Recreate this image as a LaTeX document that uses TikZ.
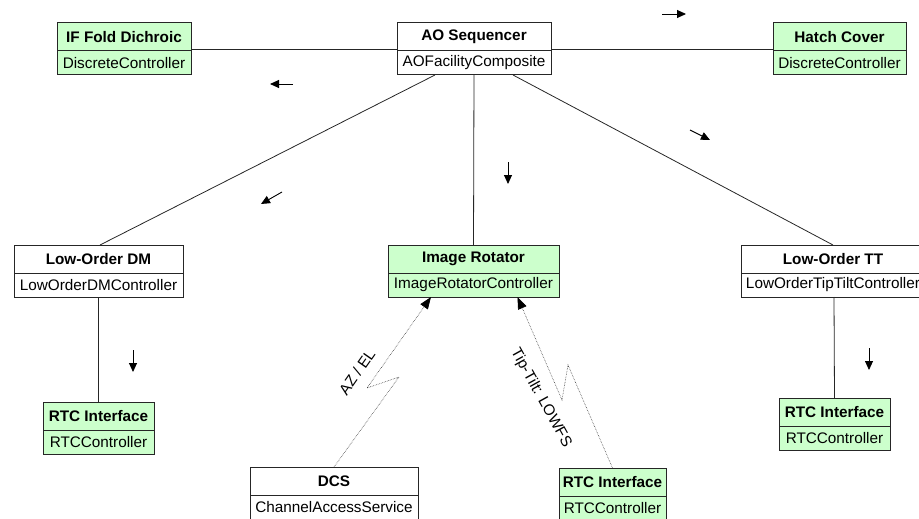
\documentclass[tikz,border=0pt]{standalone}
\usepackage{fontspec}
\setmainfont{Liberation Sans}
\usetikzlibrary{positioning,arrows.meta}

\definecolor{boxgreen}{RGB}{204,255,204}

\tikzset{
  umltitle/.style={draw=black!85, line width=1pt, minimum height=28pt, inner sep=0pt, outer sep=0pt, font=\fontsize{15.3}{18}\selectfont\bfseries},
  umlclass/.style={draw=black!85, line width=1pt, minimum height=24pt, inner sep=0pt, outer sep=0pt, font=\fontsize{15.3}{18}\selectfont},
  assoc/.style={black!85, line width=0.8pt},
  signal/.style={black!75, line width=0.6pt, densely dotted, -{Triangle[length=12pt,width=9pt,color=black]}},
  dirarrow/.style={black, line width=0.9pt, -{Triangle[length=9pt,width=8pt]}},
  siglabel/.style={font=\fontsize{15.3}{18}\selectfont, inner sep=1pt}
}

\begin{document}
\begin{tikzpicture}[x=1pt,y=-1pt]
\useasboundingbox (0,0) rectangle (919,519);
\clip (0,0) rectangle (919,519);

% top row
\node[umltitle, fill=boxgreen, minimum width=134pt] (ifd) at (124,37) {IF Fold Dichroic};
\node[umlclass, fill=boxgreen, minimum width=134pt, below=0pt of ifd] (ifdc) {DiscreteController};

\node[umltitle, fill=white, minimum width=154pt] (aos) at (474,37) {AO Sequencer};
\node[umlclass, fill=white, minimum width=154pt, below=0pt of aos] (aosc) {AOFacilityComposite};

\node[umltitle, fill=boxgreen, minimum width=133pt] (hatch) at (839.5,37) {Hatch Cover};
\node[umlclass, fill=boxgreen, minimum width=133pt, below=0pt of hatch] (hatchc) {DiscreteController};

% middle row
\node[umltitle, fill=white, minimum width=169pt] (lodm) at (98.5,259) {Low-Order DM};
\node[umlclass, fill=white, minimum width=169pt, below=0pt of lodm] (lodmc) {LowOrderDMController};

\node[umltitle, fill=boxgreen, minimum width=171pt] (imr) at (473.5,259) {Image Rotator};
\node[umlclass, fill=boxgreen, minimum width=171pt, below=0pt of imr] (imrc) {ImageRotatorController};

\node[umltitle, fill=white, minimum width=184pt] (lott) at (833,259) {Low-Order TT};
\node[umlclass, fill=white, minimum width=184pt, below=0pt of lott] (lottc) {LowOrderTipTiltController};

% lower boxes
\node[umltitle, fill=boxgreen, minimum width=111pt] (rtcdm) at (98.5,416) {RTC Interface};
\node[umlclass, fill=boxgreen, minimum width=111pt, below=0pt of rtcdm] (rtcdmc) {RTCController};

\node[umltitle, fill=boxgreen, minimum width=111pt] (rtctt) at (834.5,412) {RTC Interface};
\node[umlclass, fill=boxgreen, minimum width=111pt, below=0pt of rtctt] (rtcttc) {RTCController};

\node[umltitle, fill=white, minimum width=168pt] (dcs) at (334,481) {DCS};
\node[umlclass, fill=white, minimum width=168pt, below=0pt of dcs] (dcsc) {ChannelAccessService};

\node[umltitle, fill=boxgreen, minimum width=107pt] (rtcir) at (612.5,482) {RTC Interface};
\node[umlclass, fill=boxgreen, minimum width=107pt, below=0pt of rtcir] (rtcirc) {RTCController};

% associations
\draw[assoc] ([yshift=2pt]ifd.south east) -- ([yshift=2pt]aos.south west);
\draw[assoc] ([yshift=2pt]aos.south east) -- ([yshift=2pt]hatch.south west);
\draw[assoc] ([xshift=-39pt]aosc.south) -- ([xshift=1.5pt]lodm.north);
\draw[assoc] (aosc.south) -- (imr.north);
\draw[assoc] ([xshift=39pt]aosc.south) -- (lott.north);
\draw[assoc] (lodmc.south) -- (rtcdm.north);
\draw[assoc] ([xshift=1pt]lottc.south) -- (rtctt.north);

% signal links
\draw[signal] (dcs.north) -- (399,377) -- (367,388) -- ([xshift=-42.5pt]imrc.south);
\draw[signal] (rtcir.north) -- (568,365) -- (562,400) -- ([xshift=44pt]imrc.south);
\node[siglabel, rotate=55] (azel) at (357,372) {AZ / EL};
\node[siglabel, rotate=-61] (ttlabel) at (541,398) {Tip-Tilt: LOWFS};

% direction markers
\draw[dirarrow] (662,14) -- (686,14);
\draw[dirarrow] (293,84) -- (270,84);
\draw[dirarrow] (282,192) -- (261,204);
\draw[dirarrow] (690,130) -- (710,140);
\draw[dirarrow] (508,162) -- (508,184);
\draw[dirarrow] (133,350) -- (133,372);
\draw[dirarrow] (869,348) -- (869,370);

\end{tikzpicture}
\end{document}
